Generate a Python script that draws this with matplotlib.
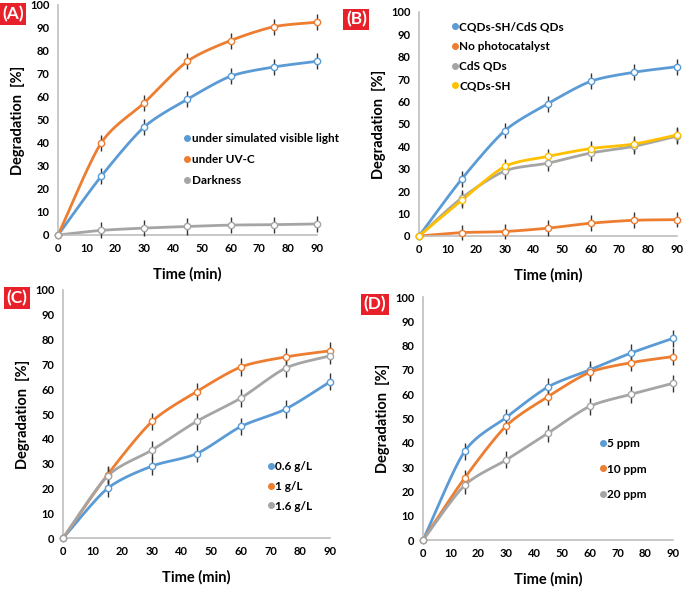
import numpy as np
import matplotlib
matplotlib.use("Agg")
import matplotlib.pyplot as plt
from matplotlib.lines import Line2D

plt.rcParams['font.family'] = ['Lato', 'DejaVu Sans']
plt.rcParams['font.weight'] = 'bold'

# =========================
# DATA
# =========================
time = [0, 15, 30, 45, 60, 75, 90]

a_visible = [0, 25.5, 47, 59, 69, 73, 75.5]
a_uvc = [0, 40, 57.5, 75.5, 84.5, 90.5, 92.5]
a_dark = [0, 2, 3, 3.7, 4.3, 4.5, 4.8]

b_composite = [0, 25.5, 47, 59, 69, 73, 75.5]
b_none = [0, 1.5, 2, 3.5, 5.7, 7, 7.3]
b_cds = [0, 17, 29, 32.5, 37, 40, 44.5]
b_cqds = [0, 16, 31, 35.5, 39, 41, 45]

c_06 = [0, 20, 29, 34, 45, 52, 63]
c_1 = [0, 25.5, 47, 59, 69, 73, 75.5]
c_16 = [0, 25, 35.5, 47, 56.5, 68.5, 73.5]

d_5 = [0, 36.5, 50.5, 63, 70, 77, 83]
d_10 = [0, 25.5, 47, 59, 69, 73, 75.5]
d_20 = [0, 22.5, 33, 44, 55, 60, 64.5]

err = [0, 3.5, 3.5, 3.5, 3.5, 3.5, 3.5]

BLUE = '#5B9BD5'
ORANGE = '#ED7D31'
GRAY = '#A5A5A5'
YELLOW = '#FFC000'


def smooth(x, y, n=20):
    # Catmull-Rom style curve through the points (like Excel smoothed lines)
    x = np.asarray(x, float)
    y = np.asarray(y, float)
    px = np.concatenate([[2 * x[0] - x[1]], x, [2 * x[-1] - x[-2]]])
    py = np.concatenate([[2 * y[0] - y[1]], y, [2 * y[-1] - y[-2]]])
    xs, ys = [], []
    t = np.linspace(0, 1, n)
    for i in range(1, len(px) - 2):
        for arr, out in ((px, xs), (py, ys)):
            p0, p1, p2, p3 = arr[i - 1], arr[i], arr[i + 1], arr[i + 2]
            m1 = (p2 - p0) / 2 * 0.8
            m2 = (p3 - p1) / 2 * 0.8
            h00 = 2 * t**3 - 3 * t**2 + 1
            h10 = t**3 - 2 * t**2 + t
            h01 = -2 * t**3 + 3 * t**2
            h11 = t**3 - t**2
            out.extend(h00 * p1 + h10 * m1 + h01 * p2 + h11 * m2)
    return xs, ys


def panel(rect, series, label, label_pos, leg_pos, leg_space):
    ax = fig.add_axes(rect)
    handles = []
    for name, vals, col in series:
        sx, sy = smooth(time, vals)
        ax.plot(sx, sy, color=col, lw=2, zorder=2, clip_on=False)
        ax.errorbar(time, vals, yerr=err, fmt='none', ecolor='#333333',
                    elinewidth=1, capsize=0, zorder=3, clip_on=False)
        ax.plot(time, vals, 'o', ms=4.5, mfc='white', mec=col, mew=1,
                zorder=4, clip_on=False)
        handles.append(Line2D([], [], color=col, marker='o', ms=4, lw=0,
                              label=name))
    ax.set_xlim(0, 90)
    ax.set_ylim(0, 100)
    ax.set_xticks(range(0, 91, 10))
    ax.set_yticks(range(0, 101, 10))
    ax.tick_params(labelsize=8, length=0, pad=6)
    for s in ('top', 'right'):
        ax.spines[s].set_visible(False)
    for s in ('left', 'bottom'):
        ax.spines[s].set_color('#BFBFBF')
        ax.spines[s].set_linewidth(1.2)
    ax.set_xlabel('Time (min)', fontsize=10.5, fontweight='bold', labelpad=9)
    ax.set_ylabel('Degradation  [%]', fontsize=10.5, fontweight='bold')
    ax.legend(handles=handles, loc='upper left', bbox_to_anchor=leg_pos,
              frameon=False, handlelength=0.5, handletextpad=0.1,
              labelspacing=leg_space, prop={'size': 8.5, 'weight': 'bold'},
              borderaxespad=0)
    fig.text(label_pos[0], label_pos[1], label, fontsize=12.5,
             fontweight='bold', color='white', ha='left', va='top',
             bbox=dict(boxstyle='square,pad=0.15', fc='#E8202A', ec='none'))
    return ax


fig = plt.figure(figsize=(6.85, 5.9), dpi=100)

panel([0.0847, 0.6017, 0.378, 0.39],
      [('under simulated visible light', a_visible, BLUE),
       ('under UV-C', a_uvc, ORANGE),
       ('Darkness', a_dark, GRAY)],
      '(A)', (0.003, 0.99), (0.47, 0.465), 0.85)

panel([0.6117, 0.60, 0.376, 0.38],
      [('CQDs-SH/CdS QDs', b_composite, BLUE),
       ('No photocatalyst', b_none, ORANGE),
       ('CdS QDs', b_cds, GRAY),
       ('CQDs-SH', b_cqds, YELLOW)],
      '(B)', (0.505, 0.981), (0.11, 0.98), 0.75)

panel([0.092, 0.0881, 0.39, 0.4204],
      [('0.6 g/L', c_06, BLUE),
       ('1 g/L', c_1, ORANGE),
       ('1.6 g/L', c_16, GRAY)],
      '(C)', (0.010, 0.509), (0.75, 0.33), 0.75)

panel([0.6175, 0.0847, 0.365, 0.4119],
      [('5 ppm', d_5, BLUE),
       ('10 ppm', d_10, ORANGE),
       ('20 ppm', d_20, GRAY)],
      '(D)', (0.531, 0.498), (0.69, 0.44), 1.25)

fig.savefig('out.png', dpi=100)
